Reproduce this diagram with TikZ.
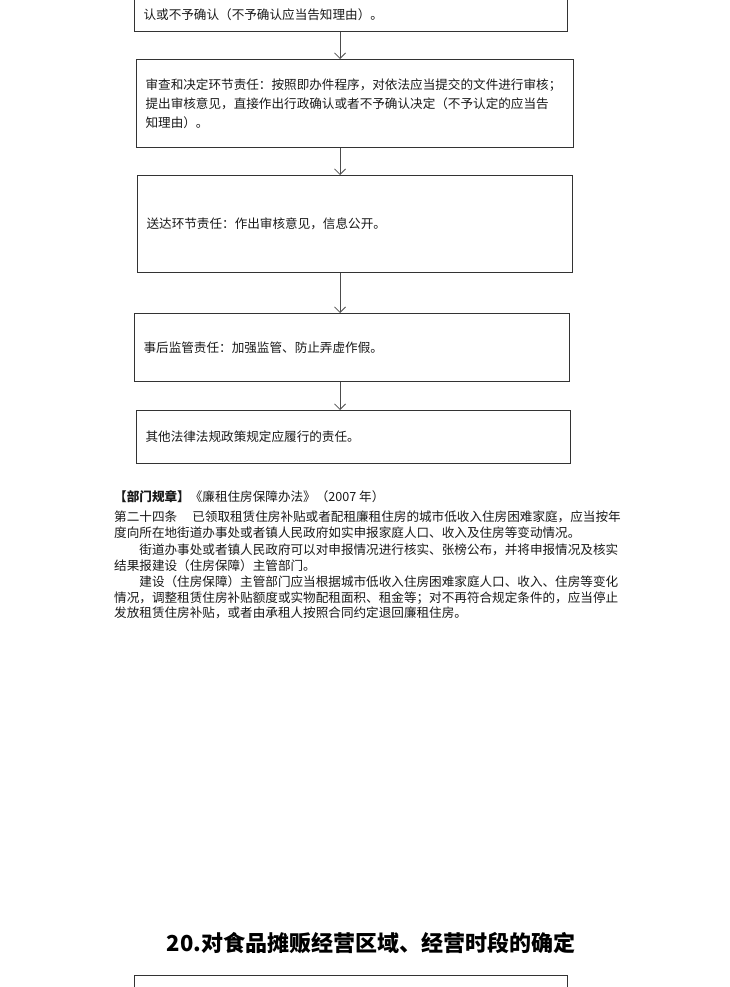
\documentclass[tikz,border=0pt]{standalone}
\usepackage{fontspec}
\setmainfont{Noto Sans CJK SC}
\usetikzlibrary{arrows.meta}

\begin{document}
\begin{tikzpicture}[
    x=1pt, y=-1pt,
    font=\fontsize{12.6pt}{19pt}\selectfont,
    text=black!90,
    stepbox/.style={
        draw=black!80, line width=1.1pt, anchor=north west,
        align=left, inner xsep=9pt, inner ysep=0pt
    },
    arrow/.style={-{Straight Barb[length=5.5pt,width=11pt]}, line width=0.8pt, draw=black!70},
    bodyline/.style={anchor=west, inner sep=0pt},
    heading/.style={font=\fontsize{22pt}{26pt}\selectfont\bfseries, text=black, inner sep=0pt}
]

\useasboundingbox (0,0) rectangle (730,987);
\clip (0,0) rectangle (730,987);

% Flow boxes
\node[stepbox, text width=415pt, minimum height=34pt, anchor=south west] (b0) at (134,32)
    {认或不予确认（不予确认应当告知理由）。};
\node[stepbox, text width=419pt, minimum height=88pt] (b1) at (136,59)
    {审查和决定环节责任：按照即办件程序，对依法应当提交的文件进行审核；\\
     提出审核意见，直接作出行政确认或者不予确认决定（不予认定的应当告\\
     知理由）。};
\node[stepbox, text width=417pt, minimum height=97pt] (b2) at (137,175)
    {送达环节责任：作出审核意见，信息公开。};
\node[stepbox, text width=417pt, minimum height=68pt] (b3) at (134,313)
    {事后监管责任：加强监管、防止弄虚作假。};
\node[stepbox, text width=416pt, minimum height=53pt] (b4) at (136,410)
    {其他法律法规政策规定应履行的责任。};

% Arrows sit left of the box centres
\coordinate (ax) at (340,0);
\draw[arrow] (b0.south -| ax) -- (b1.north -| ax);
\draw[arrow] (b1.south -| ax) -- (b2.north -| ax);
\draw[arrow] (b2.south -| ax) -- (b3.north -| ax);
\draw[arrow] (b3.south -| ax) -- (b4.north -| ax);

% Regulation text
\node[bodyline] (rule) at (114,497) {\textbf{【部门规章】}《廉租住房保障办法》（2007 年）};
\node[bodyline] (l1) at (114,517) {第二十四条\hspace{1.2em}已领取租赁住房补贴或者配租廉租住房的城市低收入住房困难家庭，应当按年};
\node[bodyline] (l2) at (114,533) {度向所在地街道办事处或者镇人民政府如实申报家庭人口、收入及住房等变动情况。};
\node[bodyline] (l3) at (114,550) {\hspace*{2em}街道办事处或者镇人民政府可以对申报情况进行核实、张榜公布，并将申报情况及核实};
\node[bodyline] (l4) at (114,566) {结果报建设（住房保障）主管部门。};
\node[bodyline] (l5) at (114,582) {\hspace*{2em}建设（住房保障）主管部门应当根据城市低收入住房困难家庭人口、收入、住房等变化};
\node[bodyline] (l6) at (114,598) {情况，调整租赁住房补贴额度或实物配租面积、租金等；对不再符合规定条件的，应当停止};
\node[bodyline] (l7) at (114,613) {发放租赁住房补贴，或者由承租人按照合同约定退回廉租住房。};

% Next section
\node[heading] (title) at (371,943) {20.对食品摊贩经营区域、经营时段的确定};
\node[stepbox, text width=415pt, minimum height=40pt] (b5) at (134,975) {};

\end{tikzpicture}
\end{document}
